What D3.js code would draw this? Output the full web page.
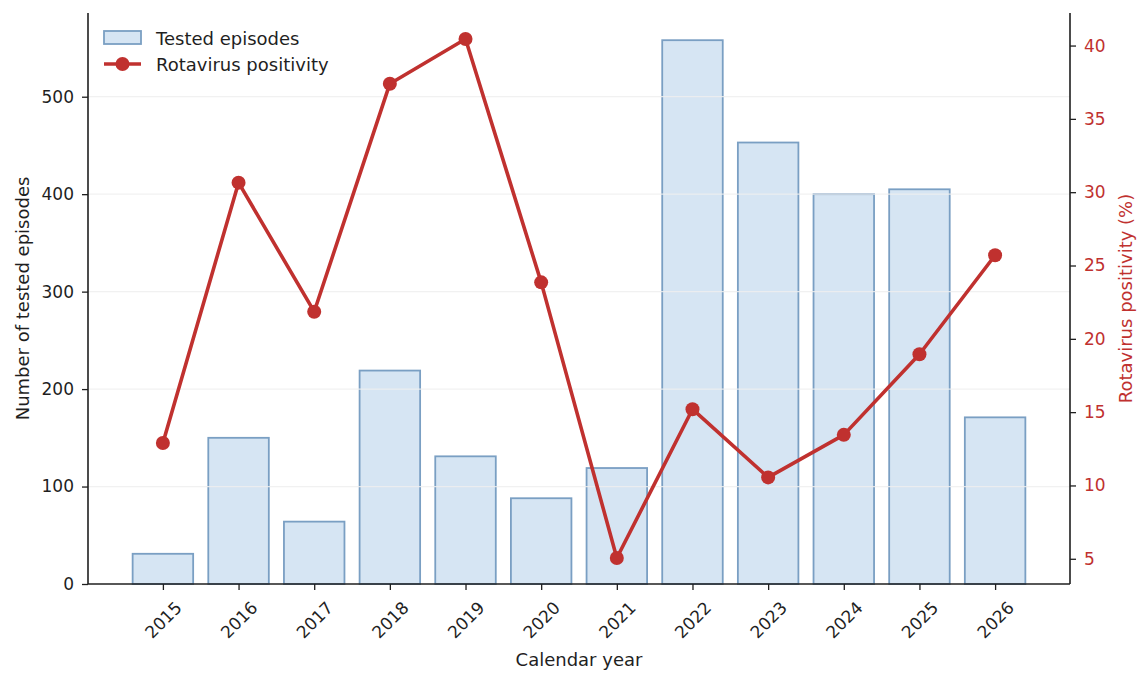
<!DOCTYPE html>
<html>
<head>
<meta charset="utf-8">
<script src="https://cdn.jsdelivr.net/npm/d3@7"></script>
<style>
  body { margin: 0; background: #fff; }
  text { font-family: "DejaVu Sans", sans-serif; }
</style>
</head>
<body>
<div id="container"></div>
<script>
var years = ["2015", "2016", "2017", "2018", "2019", "2020", "2021", "2022", "2023", "2024", "2025", "2026"];
var tested = [31, 150, 64, 219, 131, 88, 119, 558, 453, 400, 405, 171];
var positivity = [12.9, 30.65, 21.85, 37.4, 40.45, 23.85, 5.05, 15.2, 10.55, 13.45, 18.95, 25.7];
var leftTicks = [0, 100, 200, 300, 400, 500];
var rightTicks = [5, 10, 15, 20, 25, 30, 35, 40];

var width = 1145;
var height = 680;
var margin = {left: 88, right: 75, top: 13, bottom: 96};
var x0 = margin.left, x1 = width - margin.right;
var y0 = height - margin.bottom, y1 = margin.top;

var red = "#c0312f";
var ink = "#1f1f1f";
var barFill = "#d6e5f3";
var barStroke = "#7a9fc3";

var svg = d3.select("#container")
  .append("svg")
  .attr("width", width)
  .attr("height", height);

// category positions like matplotlib: index with 5% margins around bars
var x = d3.scaleLinear()
  .domain([-0.4 - 0.59, years.length - 1 + 0.4 + 0.59])
  .range([x0, x1]);

var yMax = d3.max(tested) * 1.05;
var yL = d3.scaleLinear().domain([0, yMax]).range([y0, y1]);

var pMin = d3.min(positivity), pMax = d3.max(positivity);
var pad = (pMax - pMin) * 0.05;
var yR = d3.scaleLinear().domain([pMin - pad, pMax + pad]).range([y0, y1]);

// bars
svg.append("g")
  .selectAll("rect")
  .data(tested)
  .enter().append("rect")
  .attr("x", function(d, i) { return x(i - 0.4); })
  .attr("width", x(0.4) - x(-0.4))
  .attr("y", function(d) { return yL(d); })
  .attr("height", function(d) { return y0 - yL(d); })
  .attr("fill", barFill)
  .attr("stroke", barStroke)
  .attr("stroke-width", 1.8);

// grid (drawn above bars)
svg.append("g")
  .selectAll("line")
  .data(leftTicks.slice(1))
  .enter().append("line")
  .attr("x1", x0).attr("x2", x1)
  .attr("y1", function(d) { return yL(d); })
  .attr("y2", function(d) { return yL(d); })
  .attr("stroke", "#eeeeee")
  .attr("stroke-opacity", 0.85)
  .attr("stroke-width", 1.2);

// left axis
var axL = svg.append("g")
  .attr("transform", "translate(" + x0 + ",0)")
  .call(d3.axisLeft(yL).tickValues(leftTicks).tickSize(6).tickPadding(8));
axL.select(".domain").attr("stroke", ink).attr("stroke-width", 1.6).attr("d", "M0," + y0 + "V" + y1);
axL.selectAll(".tick line").attr("stroke", ink).attr("stroke-width", 1.3);
axL.selectAll(".tick text").attr("font-size", 17).attr("fill", ink);

// right axis
var axR = svg.append("g")
  .attr("transform", "translate(" + x1 + ",0)")
  .call(d3.axisRight(yR).tickValues(rightTicks).tickSize(6).tickPadding(8));
axR.select(".domain").attr("stroke", ink).attr("stroke-width", 1.6).attr("d", "M0," + y0 + "V" + y1);
axR.selectAll(".tick line").attr("stroke", ink).attr("stroke-width", 1.3);
axR.selectAll(".tick text").attr("font-size", 17).attr("fill", red);

// bottom axis
var axB = svg.append("g")
  .attr("transform", "translate(0," + y0 + ")")
  .call(d3.axisBottom(x).tickValues(d3.range(years.length)).tickFormat(function(i) { return years[i]; }).tickSize(6));
axB.select(".domain").attr("stroke", ink).attr("stroke-width", 1.6).attr("d", "M" + x0 + ",0H" + x1);
axB.selectAll(".tick line").attr("stroke", ink).attr("stroke-width", 1.3);
axB.selectAll(".tick text")
  .attr("font-size", 17)
  .attr("fill", ink)
  .attr("text-anchor", "middle")
  .attr("y", null)
  .attr("dy", "0.35em")
  .attr("transform", "translate(0,36) rotate(-45)");

// line
var line = d3.line()
  .x(function(d, i) { return x(i); })
  .y(function(d) { return yR(d); });

svg.append("path")
  .datum(positivity)
  .attr("d", line)
  .attr("fill", "none")
  .attr("stroke", red)
  .attr("stroke-width", 3.6)
  .attr("stroke-linejoin", "round");

svg.append("g")
  .selectAll("circle")
  .data(positivity)
  .enter().append("circle")
  .attr("cx", function(d, i) { return x(i); })
  .attr("cy", function(d) { return yR(d); })
  .attr("r", 7)
  .attr("fill", red);

// axis labels
svg.append("text")
  .attr("x", (x0 + x1) / 2)
  .attr("y", 666)
  .attr("text-anchor", "middle")
  .attr("font-size", 18)
  .attr("fill", ink)
  .text("Calendar year");

svg.append("text")
  .attr("transform", "translate(29," + ((y0 + y1) / 2) + ") rotate(-90)")
  .attr("text-anchor", "middle")
  .attr("font-size", 18)
  .attr("fill", ink)
  .text("Number of tested episodes");

svg.append("text")
  .attr("transform", "translate(1132," + ((y0 + y1) / 2) + ") rotate(-90)")
  .attr("text-anchor", "middle")
  .attr("font-size", 18)
  .attr("fill", red)
  .text("Rotavirus positivity (%)");

// legend
var lg = svg.append("g").attr("transform", "translate(104,31)");
lg.append("rect")
  .attr("x", 0).attr("y", 0)
  .attr("width", 37).attr("height", 13)
  .attr("fill", barFill)
  .attr("stroke", barStroke)
  .attr("stroke-width", 1.8);
lg.append("text")
  .attr("x", 52).attr("y", 13.5)
  .attr("font-size", 18)
  .attr("fill", ink)
  .text("Tested episodes");
lg.append("line")
  .attr("x1", 0).attr("x2", 37)
  .attr("y1", 33).attr("y2", 33)
  .attr("stroke", red)
  .attr("stroke-width", 3.6);
lg.append("circle")
  .attr("cx", 18.5).attr("cy", 33)
  .attr("r", 7)
  .attr("fill", red);
lg.append("text")
  .attr("x", 52).attr("y", 39.5)
  .attr("font-size", 18)
  .attr("fill", ink)
  .text("Rotavirus positivity");
</script>
</body>
</html>
